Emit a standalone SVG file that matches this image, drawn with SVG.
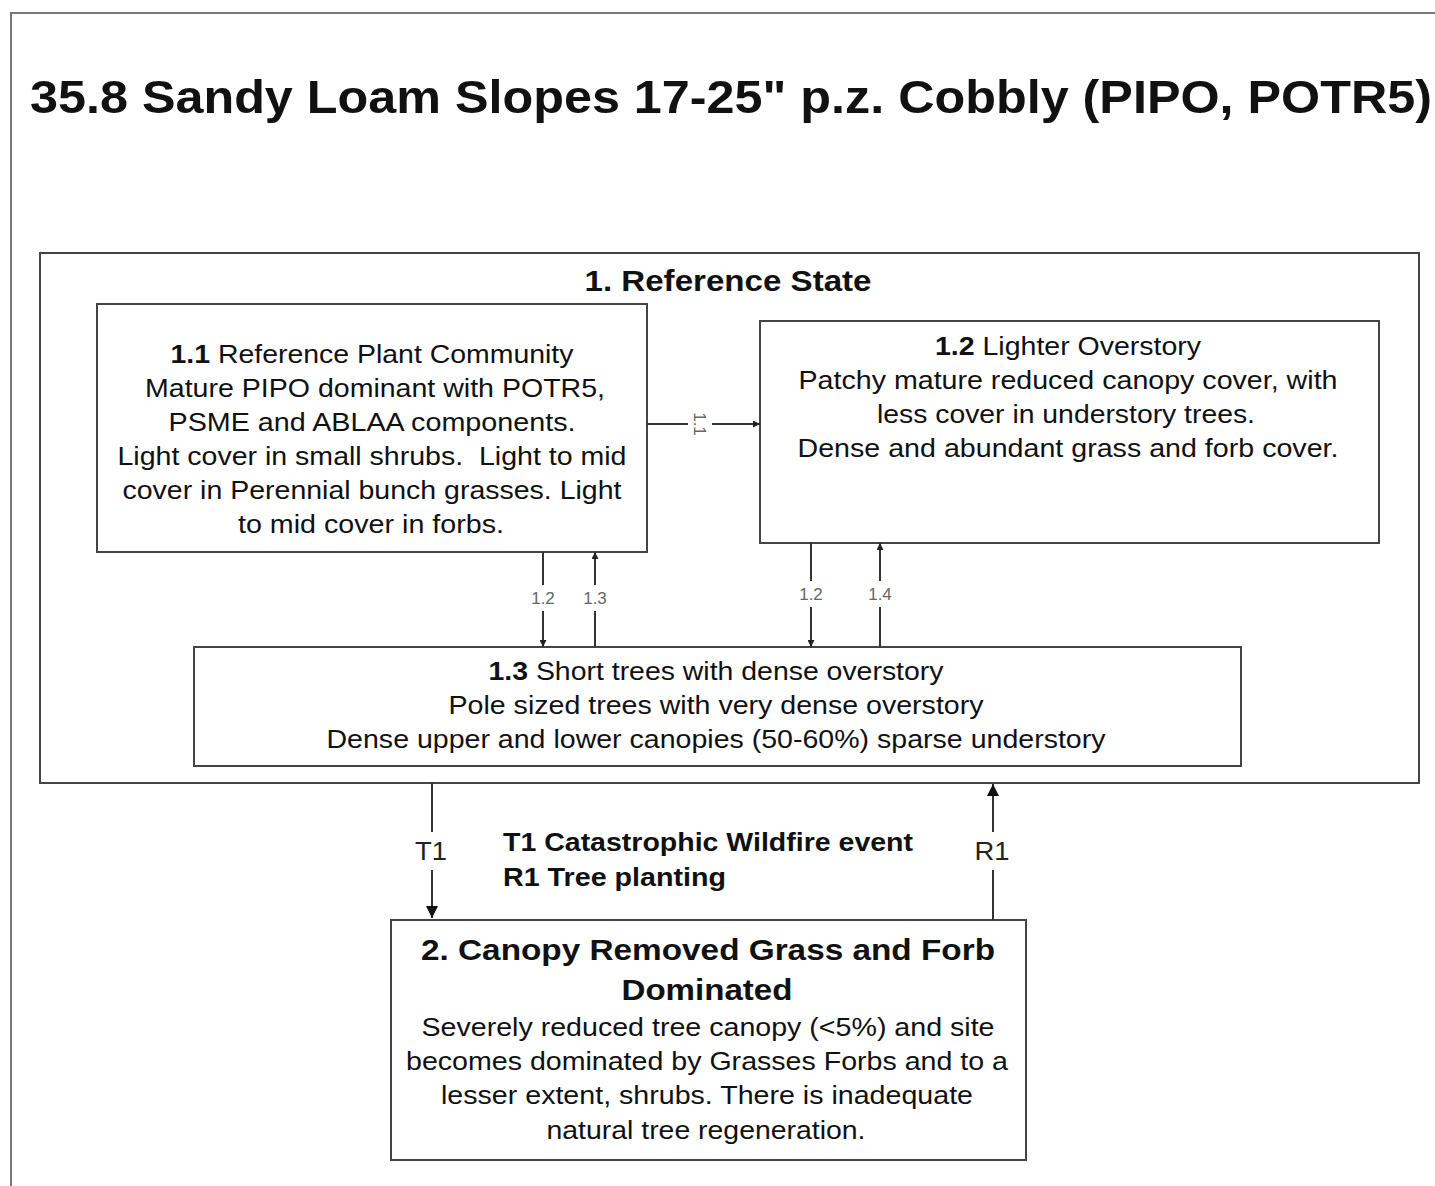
<svg xmlns="http://www.w3.org/2000/svg" width="1435" height="1186" viewBox="0 0 1435 1186">
<style>
text{font-family:"Liberation Sans",Arial,sans-serif;fill:#111}
.box{fill:#fff;stroke:#444;stroke-width:2}
.b{font-weight:bold}
.t{font-size:25px;text-anchor:middle}
.lbl{font-size:17px;fill:#666;text-anchor:middle}
.ln{stroke:#333;stroke-width:2;fill:none}
</style>
<defs>
<marker id="ah" viewBox="0 0 10 10" refX="10" refY="5" markerWidth="7" markerHeight="7" orient="auto" markerUnits="userSpaceOnUse"><path d="M0,0L10,5L0,10z" fill="#222"/></marker>
<marker id="ahb" viewBox="0 0 10 10" refX="10" refY="5" markerWidth="12" markerHeight="12" orient="auto" markerUnits="userSpaceOnUse"><path d="M0,0L10,5L0,10z" fill="#111"/></marker>
</defs>
<rect x="0" y="0" width="1435" height="1186" fill="#fff"/>
<path d="M11,1186V13H1435" fill="none" stroke="#777" stroke-width="2"/>
<text x="30" y="113" class="b" style="font-size:47px" textLength="1402" lengthAdjust="spacingAndGlyphs">35.8 Sandy Loam Slopes 17-25" p.z. Cobbly (PIPO, POTR5)</text>

<g id="state1">
<rect class="box" x="40" y="253" width="1379" height="530"/>
<text x="728" y="291" class="b" style="font-size:30px;text-anchor:middle" textLength="287" lengthAdjust="spacingAndGlyphs">1. Reference State</text>
</g>

<g id="n11">
<rect class="box" x="97" y="304" width="550" height="248"/>
<text class="t" x="372" y="363" textLength="403" lengthAdjust="spacingAndGlyphs"><tspan class="b">1.1</tspan> Reference Plant Community</text>
<text class="t" x="375" y="397" textLength="460" lengthAdjust="spacingAndGlyphs">Mature PIPO dominant with POTR5,</text>
<text class="t" x="372" y="431" textLength="407" lengthAdjust="spacingAndGlyphs">PSME and ABLAA components.</text>
<text class="t" x="372" y="465" textLength="509" lengthAdjust="spacingAndGlyphs" xml:space="preserve">Light cover in small shrubs.  Light to mid</text>
<text class="t" x="372" y="499" textLength="499" lengthAdjust="spacingAndGlyphs">cover in Perennial bunch grasses. Light</text>
<text class="t" x="371" y="533" textLength="266" lengthAdjust="spacingAndGlyphs">to mid cover in forbs.</text>
</g>

<g id="n12">
<rect class="box" x="760" y="321" width="619" height="222"/>
<text class="t" x="1068" y="355" textLength="266" lengthAdjust="spacingAndGlyphs"><tspan class="b">1.2</tspan> Lighter Overstory</text>
<text class="t" x="1068" y="389" textLength="539" lengthAdjust="spacingAndGlyphs">Patchy mature reduced canopy cover, with</text>
<text class="t" x="1066" y="423" textLength="378" lengthAdjust="spacingAndGlyphs">less cover in understory trees.</text>
<text class="t" x="1068" y="457" textLength="541" lengthAdjust="spacingAndGlyphs">Dense and abundant grass and forb cover.</text>
</g>

<g id="n13">
<rect class="box" x="194" y="647" width="1047" height="119"/>
<text class="t" x="716" y="680" textLength="455" lengthAdjust="spacingAndGlyphs"><tspan class="b">1.3</tspan> Short trees with dense overstory</text>
<text class="t" x="716" y="714" textLength="535" lengthAdjust="spacingAndGlyphs">Pole sized trees with very dense overstory</text>
<text class="t" x="716" y="748" textLength="779" lengthAdjust="spacingAndGlyphs">Dense upper and lower canopies (50-60%) sparse understory</text>
</g>

<g id="state2">
<rect class="box" x="391" y="920" width="635" height="240"/>
<text x="708" y="960" class="b" style="font-size:30px;text-anchor:middle" textLength="574" lengthAdjust="spacingAndGlyphs">2. Canopy Removed Grass and Forb</text>
<text x="707" y="1000" class="b" style="font-size:30px;text-anchor:middle" textLength="171" lengthAdjust="spacingAndGlyphs">Dominated</text>
<text class="t" x="708" y="1036" textLength="573" lengthAdjust="spacingAndGlyphs">Severely reduced tree canopy (&lt;5%) and site</text>
<text class="t" x="707" y="1070" textLength="602" lengthAdjust="spacingAndGlyphs">becomes dominated by Grasses Forbs and to a</text>
<text class="t" x="707" y="1104" textLength="532" lengthAdjust="spacingAndGlyphs">lesser extent, shrubs. There is inadequate</text>
<text class="t" x="706" y="1139" textLength="319" lengthAdjust="spacingAndGlyphs">natural tree regeneration.</text>
</g>

<g id="connectors">
<path class="ln" d="M647,424H688M712,424H760" marker-end="url(#ah)"/>
<text class="lbl" transform="translate(700,424) rotate(90)" y="6">1.1</text>

<path class="ln" d="M543,552V585M543,611V647" marker-end="url(#ah)"/>
<text class="lbl" x="543" y="604">1.2</text>
<path class="ln" d="M595,647V611M595,585V552" marker-end="url(#ah)"/>
<text class="lbl" x="595" y="604">1.3</text>

<path class="ln" d="M811,543V581M811,607V647" marker-end="url(#ah)"/>
<text class="lbl" x="811" y="600">1.2</text>
<path class="ln" d="M880,647V607M880,581V543" marker-end="url(#ah)"/>
<text class="lbl" x="880" y="600">1.4</text>

<path class="ln" d="M432,783V832M432,870V918" marker-end="url(#ahb)"/>
<text x="431" y="860" style="font-size:26px;text-anchor:middle;fill:#222" textLength="32" lengthAdjust="spacingAndGlyphs">T1</text>
<path class="ln" d="M993,920V870M993,832V784" marker-end="url(#ahb)"/>
<text x="992" y="860" style="font-size:26px;text-anchor:middle;fill:#222" textLength="35" lengthAdjust="spacingAndGlyphs">R1</text>

<text x="503" y="851" class="b" style="font-size:26px" textLength="410" lengthAdjust="spacingAndGlyphs">T1 Catastrophic Wildfire event</text>
<text x="503" y="886" class="b" style="font-size:26px" textLength="223" lengthAdjust="spacingAndGlyphs">R1 Tree planting</text>
</g>
</svg>
